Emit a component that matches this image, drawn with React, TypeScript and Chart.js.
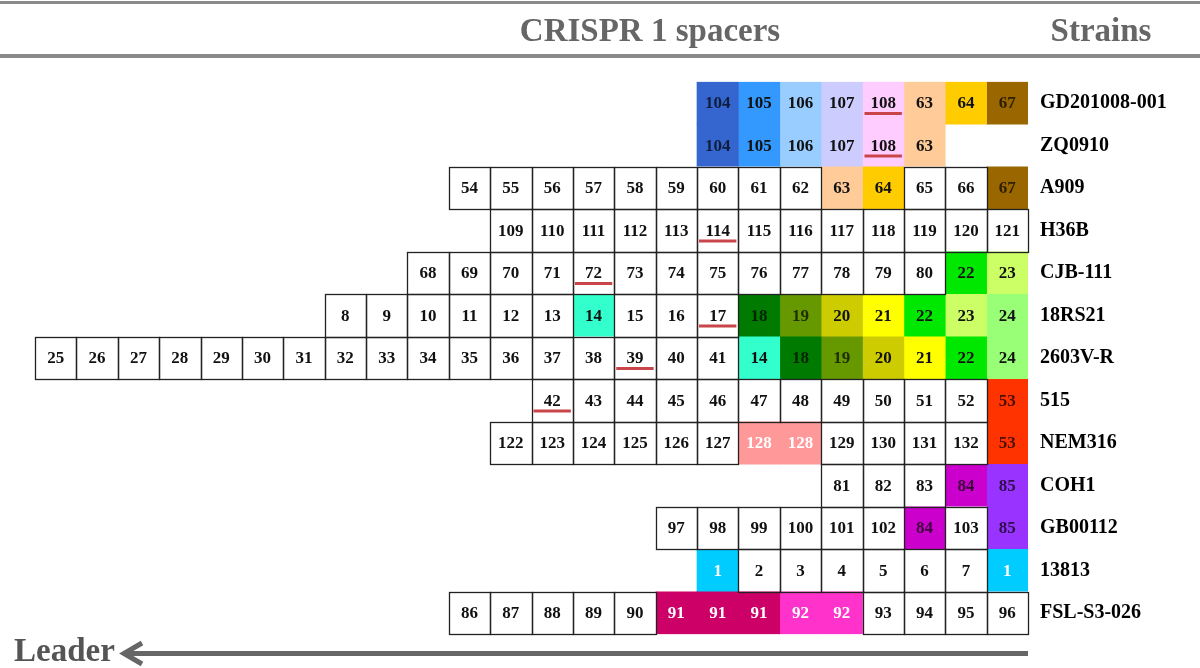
import { useEffect, useRef } from 'react';
import { Chart, registerables } from 'chart.js';

Chart.register(...registerables);

const strains = ['GD201008-001', 'ZQ0910', 'A909', 'H36B', 'CJB-111', '18RS21', '2603V-R', '515', 'NEM316', 'COH1', 'GB00112', '13813', 'FSL-S3-026'];
const rowStart = [16, 16, 10, 11, 9, 7, 0, 12, 11, 19, 15, 16, 10];

const spacersGD = ['104', '105', '106', '107', '108', '63', '64', '67'];
const spacersZQ = ['104', '105', '106', '107', '108', '63'];
const spacersA909 = ['54', '55', '56', '57', '58', '59', '60', '61', '62', '63', '64', '65', '66', '67'];
const spacersH36B = ['109', '110', '111', '112', '113', '114', '115', '116', '117', '118', '119', '120', '121'];
const spacersCJB = ['68', '69', '70', '71', '72', '73', '74', '75', '76', '77', '78', '79', '80', '22', '23'];
const spacers18RS = ['8', '9', '10', '11', '12', '13', '14', '15', '16', '17', '18', '19', '20', '21', '22', '23', '24'];
const spacers2603 = ['25', '26', '27', '28', '29', '30', '31', '32', '33', '34', '35', '36', '37', '38', '39', '40', '41', '14', '18', '19', '20', '21', '22', '24'];
const spacers515 = ['42', '43', '44', '45', '46', '47', '48', '49', '50', '51', '52', '53'];
const spacersNEM = ['122', '123', '124', '125', '126', '127', '128', '128', '129', '130', '131', '132', '53'];
const spacersCOH1 = ['81', '82', '83', '84', '85'];
const spacersGB = ['97', '98', '99', '100', '101', '102', '84', '103', '85'];
const spacers13813 = ['1', '2', '3', '4', '5', '6', '7', '1'];
const spacersFSL = ['86', '87', '88', '89', '90', '91', '91', '91', '92', '92', '93', '94', '95', '96'];

const spacerRows = [spacersGD, spacersZQ, spacersA909, spacersH36B, spacersCJB, spacers18RS, spacers2603, spacers515, spacersNEM, spacersCOH1, spacersGB, spacers13813, spacersFSL];
const underlined = ['108', '114', '72', '17', '39', '42'];
const columnCount = 24;

const fillColors: Record<string, string> = {
  '104': '#3566CF', '105': '#3399FF', '106': '#99CCFF', '107': '#CCCCFF', '108': '#FFCCFF',
  '63': '#FFCC99', '64': '#FFCC00', '67': '#996600',
  '14': '#33FFCC', '18': '#007A00', '19': '#669900', '20': '#CCCC00', '21': '#FFFF00',
  '22': '#00E800', '23': '#CCFF66', '24': '#99FF77',
  '53': '#FF3300', '128': '#FF9999', '84': '#CC00CC', '85': '#9933FF',
  '1': '#00CCFF', '91': '#CC0066', '92': '#FF33CC',
};
const whiteText = ['128', '1', '91', '92'];
const dimText = ['104', '67', '18', '19', '53', '84', '85'];

const SERIF = "'Liberation Serif', 'Times New Roman', serif";

function cellAt(row: number, col: number): string | null {
  const j = col - rowStart[row];
  const r = spacerRows[row];
  return j >= 0 && j < r.length ? r[j] : null;
}

const cellPlugin = {
  id: 'cells',
  afterDatasetsDraw(chart: any) {
    const ctx = chart.ctx;
    ctx.save();
    const boxes: any[] = [];
    chart.data.datasets.forEach((ds: any, d: number) => {
      const meta = chart.getDatasetMeta(d);
      meta.data.forEach((el: any, i: number) => {
        const sp = ds.spacers[i];
        if (sp == null) return;
        const p = el.getProps(['x', 'y', 'base', 'height'], true);
        const l = Math.min(p.x, p.base);
        const r = Math.max(p.x, p.base);
        const t = p.y - p.height / 2;
        const b = p.y + p.height / 2;
        boxes.push({ sp, l, r, t, b, cy: p.y });
      });
    });
    ctx.strokeStyle = '#222';
    ctx.lineWidth = 1.3;
    boxes.forEach((c) => {
      if (fillColors[c.sp]) return;
      const l = Math.round(c.l) + 0.5;
      const r = Math.round(c.r) + 0.5;
      const t = Math.round(c.t) + 0.5;
      const b = Math.round(c.b) + 0.5;
      ctx.strokeRect(l, t, r - l, b - t);
    });
    ctx.font = `bold 17px ${SERIF}`;
    ctx.textAlign = 'center';
    ctx.textBaseline = 'middle';
    boxes.forEach((c) => {
      ctx.fillStyle = whiteText.includes(c.sp) ? '#ffffff' : dimText.includes(c.sp) ? 'rgba(0,0,0,0.7)' : '#111';
      ctx.fillText(c.sp, (c.l + c.r) / 2, c.cy + 1);
      if (underlined.includes(c.sp)) {
        ctx.fillStyle = '#C9454A';
        ctx.fillRect(c.l + 2, c.cy + 9, c.r - c.l - 4, 3);
      }
    });
    ctx.restore();
  },
};

const decorPlugin = {
  id: 'decor',
  afterDraw(chart: any) {
    const ctx = chart.ctx;
    const area = chart.chartArea;
    ctx.save();
    ctx.fillStyle = '#8a8a8a';
    ctx.fillRect(0, 1, chart.width, 3);
    ctx.fillRect(0, 54, chart.width, 4);
    ctx.fillStyle = '#666';
    ctx.font = `bold 33px ${SERIF}`;
    ctx.textAlign = 'center';
    ctx.textBaseline = 'middle';
    ctx.fillText('CRISPR 1 spacers', 650, 32);
    ctx.fillText('Strains', 1101, 32);
    ctx.fillStyle = '#555';
    ctx.textAlign = 'left';
    ctx.fillText('Leader', 14, 652);
    ctx.fillStyle = '#666';
    ctx.fillRect(124, 651, area.right - 124, 5);
    ctx.strokeStyle = '#666';
    ctx.lineWidth = 5;
    ctx.lineCap = 'butt';
    ctx.beginPath();
    ctx.moveTo(142, 643);
    ctx.lineTo(124, 653.5);
    ctx.lineTo(142, 664);
    ctx.stroke();
    ctx.restore();
  },
};

export default function App() {
  const ref = useRef<HTMLCanvasElement | null>(null);
  useEffect(() => {
    if (!ref.current) return;
    const datasets = [];
    for (let k = 0; k < columnCount; k++) {
      const spacers = strains.map((_, i) => cellAt(i, k));
      datasets.push({
        label: `col${k}`,
        data: spacers.map((s) => (s == null ? null : [k, k + 1])),
        spacers,
        backgroundColor: (c: any) => {
          const s = spacers[c.dataIndex];
          return s && fillColors[s] ? fillColors[s] : '#ffffff';
        },
        borderWidth: 0,
        grouped: false,
        categoryPercentage: 1,
        barPercentage: 1,
      });
    }
    const chart = new Chart(ref.current, {
      type: 'bar',
      data: { labels: strains, datasets: datasets as any },
      options: {
        indexAxis: 'y',
        animation: false,
        responsive: true,
        maintainAspectRatio: false,
        layout: { padding: { left: 35, top: 81.75, bottom: 33.75, right: 0 } },
        scales: {
          x: { type: 'linear', min: 0, max: columnCount, display: false },
          y: {
            type: 'category',
            position: 'right',
            grid: { display: false, drawTicks: false },
            border: { display: false },
            ticks: { padding: 12, color: '#000', font: { family: SERIF, size: 20, weight: 'bold' } },
            afterFit: (s: any) => { s.width = 172; },
          },
        },
        plugins: { legend: { display: false }, tooltip: { enabled: false } },
      },
      plugins: [cellPlugin, decorPlugin],
    });
    return () => chart.destroy();
  }, []);
  return (
    <div style={{ position: 'fixed', left: 0, top: 0, width: 1200, height: 668, background: '#fff' }}>
      <canvas ref={ref} />
    </div>
  );
}
